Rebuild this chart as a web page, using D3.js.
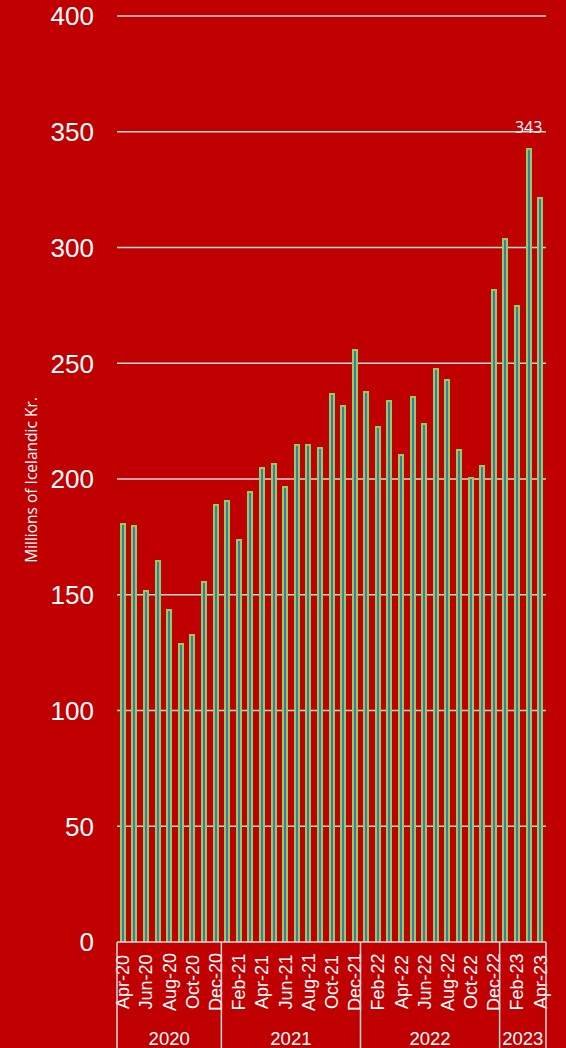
<!DOCTYPE html>
<html><head><meta charset="utf-8">
<script src="https://cdn.jsdelivr.net/npm/d3@7"></script>
<style>body{margin:0;background:#C00000;}svg{display:block;}</style>
</head><body>
<script>
const months = ["Apr-20","May-20","Jun-20","Jul-20","Aug-20","Sep-20","Oct-20","Nov-20","Dec-20",
"Jan-21","Feb-21","Mar-21","Apr-21","May-21","Jun-21","Jul-21","Aug-21","Sep-21","Oct-21","Nov-21","Dec-21",
"Jan-22","Feb-22","Mar-22","Apr-22","May-22","Jun-22","Jul-22","Aug-22","Sep-22","Oct-22","Nov-22","Dec-22",
"Jan-23","Feb-23","Mar-23","Apr-23"];
const values = [181,180,152,165,144,129,133,156,189,
191,174,195,205,207,197,215,215,214,237,232,256,
238,223,234,211,236,224,248,243,213,201,206,282,
304,275,343,322];
const years = ["2020","2021","2022","2023"];
const yearCounts = [9,12,12,4];
const yTicks = [0,50,100,150,200,250,300,350,400];
const yTitle = "Millions of Icelandic Kr.";
const annotateIndex = 35;

const W=566,H=1048;
const svg=d3.select("body").append("svg").attr("width",W).attr("height",H);
svg.append("rect").attr("width",W).attr("height",H).attr("fill","#C00000");
const x=d3.scaleBand().domain(months).range([117,546]).paddingInner(0.5).paddingOuter(0.25);
const y=d3.scaleLinear().domain([0,400]).range([942,16]);
const cx=d=>x(d)+x.bandwidth()/2;

// gridlines
svg.append("g").selectAll("line").data(yTicks.filter(d=>d>0)).join("line")
 .attr("x1",117).attr("x2",546).attr("y1",d=>y(d)).attr("y2",d=>y(d))
 .attr("stroke","#D9D9D9").attr("stroke-width",1.5);
// y labels
svg.append("g").selectAll("text").data(yTicks).join("text")
 .attr("x",94).attr("y",d=>y(d)).attr("dy","0.36em").attr("text-anchor","end")
 .attr("fill","#fff").attr("font-family","Liberation Sans, Arial, sans-serif").attr("font-size",26)
 .text(d=>d);
// title
svg.append("text").attr("transform","translate(37,480) rotate(-90)").attr("text-anchor","middle")
 .attr("fill","#fff").attr("font-family","Open Sans, sans-serif").attr("font-size",15.5).text(yTitle);

// bars: green outer, blue core
const bw=6;
const bars=svg.append("g");
bars.selectAll("rect.o").data(values).join("rect").attr("class","o")
 .attr("x",(d,i)=>Math.round(cx(months[i])-bw/2))
 .attr("y",d=>Math.round(y(d))).attr("width",bw).attr("height",d=>y(0)-Math.round(y(d)))
 .attr("fill","#92D050");
bars.selectAll("rect.i").data(values).join("rect").attr("class","i")
 .attr("x",(d,i)=>Math.round(cx(months[i])-bw/2)+2)
 .attr("y",d=>Math.round(y(d))+2).attr("width",2).attr("height",d=>y(0)-Math.round(y(d))-2)
 .attr("fill","#4472C4");

// annotation
svg.append("text").attr("x",cx(months[annotateIndex])).attr("y",y(values[annotateIndex])-15)
 .attr("text-anchor","middle").attr("fill","#fff").attr("font-family","Open Sans, sans-serif").attr("font-size",16)
 .text(values[annotateIndex]);

// x axis line
svg.append("line").attr("x1",117).attr("x2",546).attr("y1",942).attr("y2",942).attr("stroke","#D9D9D9").attr("stroke-width",1.5);
// month labels (every other)
svg.append("g").selectAll("text").data(months.filter((d,i)=>i%2===0)).join("text")
 .attr("transform",d=>`translate(${cx(d)},982) rotate(-90)`)
 .attr("dy","0.36em")
 .attr("text-anchor","middle").attr("fill","#fff").attr("font-family","Liberation Sans, Arial, sans-serif").attr("font-size",18)
 .text(d=>d);
// year groups
const starts=[]; let cum=0;
yearCounts.forEach(c=>{starts.push(cum);cum+=c;});
const edge=i=> i===0?117:(i>=months.length?546:x(months[i])-x.step()*x.paddingInner()/2);
const sepXs=[0,...starts.slice(1),months.length].map(edge);
svg.append("g").selectAll("line").data(sepXs).join("line")
 .attr("x1",d=>d).attr("x2",d=>d).attr("y1",942).attr("y2",1048).attr("stroke","#D9D9D9").attr("stroke-width",1.5);
svg.append("g").selectAll("text").data(years).join("text")
 .attr("x",(d,k)=>(sepXs[k]+sepXs[k+1])/2).attr("y",1045).attr("text-anchor","middle")
 .attr("fill","#fff").attr("font-family","Liberation Sans, Arial, sans-serif").attr("font-size",18.5).text(d=>d);
</script>
</body></html>
